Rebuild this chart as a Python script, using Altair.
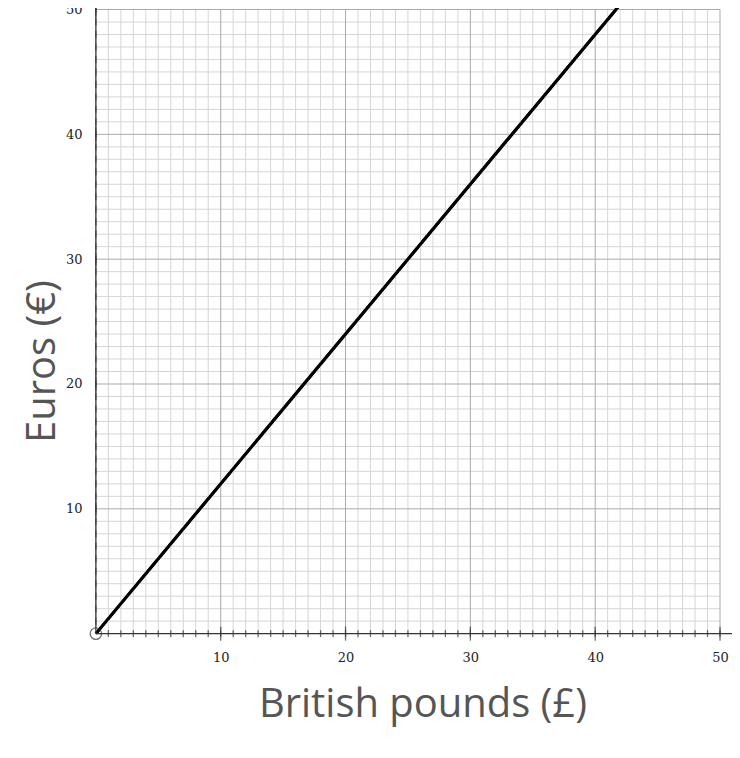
import altair as alt
import pandas as pd

# data
pounds = [0, 42.5]
euros = [0, 51]
unit_ticks = list(range(1, 51))
minor_grid = [v for v in range(1, 51) if v % 10 != 0]
major_ticks = [10, 20, 30, 40, 50]
axis_extent_x = [0, 51.6]
axis_extent_y = [0, 51]

line_df = pd.DataFrame({"pounds": pounds, "euros": euros})
ticks_df = pd.DataFrame({"v": unit_ticks})
minor_df = pd.DataFrame({"v": minor_grid})
major_df = pd.DataFrame({"v": major_ticks})
origin_df = pd.DataFrame({"pounds": [0], "euros": [0]})

xs = alt.Scale(domain=[0, 50], nice=False, zero=True)
ys = alt.Scale(domain=[0, 50], nice=False, zero=True)

line = alt.Chart(line_df).mark_line(color="black", strokeWidth=3, clip=False).encode(
    x=alt.X("pounds:Q", scale=xs, axis=alt.Axis(
        title="British pounds (£)", values=major_ticks, grid=False,
        ticks=False, domain=False, labelOverlap=False,
        labelFont="DejaVu Serif", labelFontSize=13,
        labelColor="#222", labelPadding=18, labelFlush=False,
        titleFont="Open Sans", titleFontSize=40, titleFontWeight="normal",
        titleColor="#555", titleX=327, titleY=83, titleBaseline="alphabetic",
        titleAlign="center", titleAnchor="start")),
    y=alt.Y("euros:Q", scale=ys, axis=alt.Axis(
        title="Euros (€)", values=major_ticks, grid=False,
        ticks=False, domain=False, labelOverlap=False,
        labelFont="DejaVu Serif", labelFontSize=13,
        labelColor="#222", labelPadding=14, labelFlush=False,
        titleFont="Open Sans", titleFontSize=40, titleFontWeight="normal",
        titleColor="#555", titleAngle=270, titleX=-41, titleY=352,
        titleBaseline="alphabetic", titleAlign="center", titleAnchor="start")),
)

vgrid_minor = alt.Chart(minor_df).mark_rule(color="#d6d6d6", strokeWidth=1).encode(
    x=alt.X("v:Q", scale=xs))
hgrid_minor = alt.Chart(minor_df).mark_rule(color="#d6d6d6", strokeWidth=1).encode(
    y=alt.Y("v:Q", scale=ys))
vgrid_major = alt.Chart(major_df).mark_rule(color="#aaaaaa", strokeWidth=1).encode(
    x=alt.X("v:Q", scale=xs))
hgrid_major = alt.Chart(major_df).mark_rule(color="#aaaaaa", strokeWidth=1).encode(
    y=alt.Y("v:Q", scale=ys))

xaxis_df = pd.DataFrame({"a": [axis_extent_x[0]], "b": [axis_extent_x[1]]})
yaxis_df = pd.DataFrame({"a": [axis_extent_y[0]], "b": [axis_extent_y[1]]})

xaxis_line = alt.Chart(xaxis_df).mark_rule(color="#333", strokeWidth=1.3, clip=False).encode(
    x=alt.X("a:Q", scale=xs), x2="b:Q", y=alt.datum(0))
yaxis_line = alt.Chart(yaxis_df).mark_rule(color="#333", strokeWidth=1.3, clip=False).encode(
    y=alt.Y("a:Q", scale=ys), y2="b:Q", x=alt.datum(0))

xticks = alt.Chart(ticks_df).mark_tick(color="#333", size=7, thickness=1.3, clip=False).encode(
    x=alt.X("v:Q", scale=xs), y=alt.datum(0))
yticks = alt.Chart(ticks_df).mark_tick(color="#333", size=7, thickness=1.3, clip=False).encode(
    y=alt.Y("v:Q", scale=ys), x=alt.datum(0))
xmajor = alt.Chart(major_df).mark_tick(color="#333", size=14, thickness=1.3, clip=False).encode(
    x=alt.X("v:Q", scale=xs), y=alt.datum(0))
ymajor = alt.Chart(major_df).mark_tick(color="#333", size=14, thickness=1.3, clip=False).encode(
    y=alt.Y("v:Q", scale=ys), x=alt.datum(0))

origin = alt.Chart(origin_df).mark_point(shape="circle", filled=False, color="#333",
                                         size=130, strokeWidth=1.3, clip=False).encode(
    x=alt.X("pounds:Q", scale=xs), y=alt.Y("euros:Q", scale=ys))

chart = alt.layer(line, vgrid_minor, hgrid_minor, vgrid_major, hgrid_major, line,
                  xaxis_line, yaxis_line, xticks, yticks, xmajor, ymajor, origin).properties(
    width=625, height=625,
    autosize=alt.AutoSizeParams(type="none"),
    padding={"left": 88, "top": 1, "right": 12, "bottom": 110},
).configure_view(stroke=None)

chart.save("out.html", embed_options={"renderer": "svg", "actions": False})
